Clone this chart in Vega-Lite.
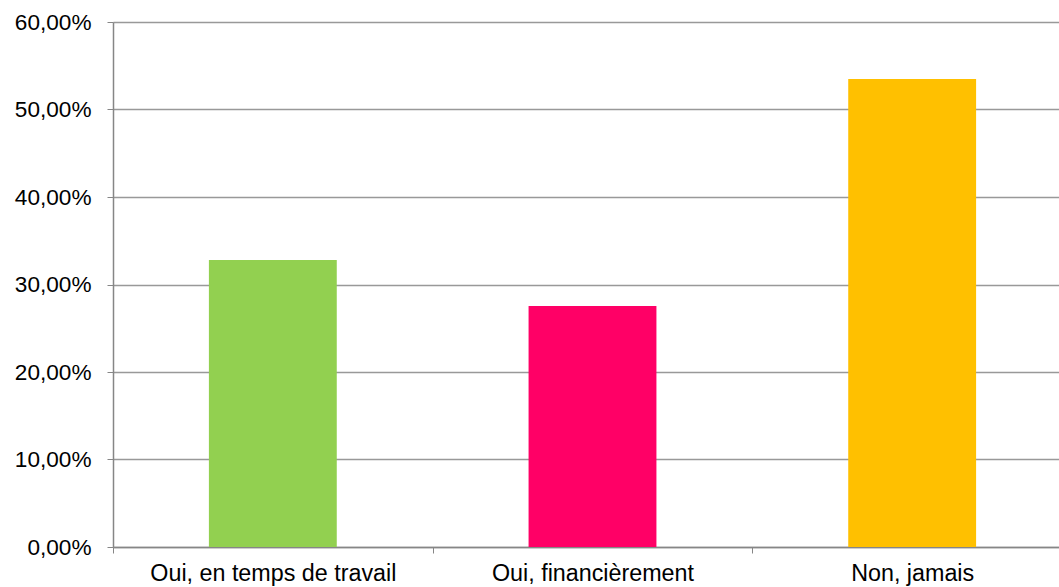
{
  "$schema": "https://vega.github.io/schema/vega-lite/v6.json",
  "autosize": {"type": "none"},
  "padding": {"left": 113, "top": 22, "right": 0, "bottom": 40},
  "width": 946,
  "height": 525,
  "background": "white",
  "data": {"values": [
    {"cat": "Oui, en temps de travail", "val": 0.328},
    {"cat": "Oui, financièrement", "val": 0.2754},
    {"cat": "Non, jamais", "val": 0.5349}
  ]},
  "config": {"view": {"stroke": null}, "font": "Liberation Sans"},
  "mark": {"type": "bar", "width": {"band": 0.4}},
  "encoding": {
    "x": {
      "field": "cat", "type": "nominal", "sort": null,
      "scale": {"range": [0, 959], "paddingInner": 0, "paddingOuter": 0},
      "axis": {
        "title": null, "labelAngle": 0, "tickBand": "extent", "labelLimit": 0,
        "domainColor": "#868686", "domainWidth": 1.5, "tickColor": "#868686", "tickSize": 6,
        "labelFont": "Liberation Sans", "labelFontSize": 23.3, "labelColor": "black", "labelPadding": 9
      }
    },
    "y": {
      "field": "val", "type": "quantitative",
      "scale": {"domain": [0, 0.6], "nice": false},
      "axis": {
        "title": null, "values": [0, 0.1, 0.2, 0.3, 0.4, 0.5, 0.6],
        "labelExpr": "replace(format(datum.value, '.2%'), '.', ',')",
        "grid": true, "gridColor": "#999999", "gridWidth": 1.5,
        "domainColor": "#868686", "domainWidth": 1.5, "tickColor": "#868686", "tickSize": 6,
        "labelFont": "Liberation Sans", "labelFontSize": 22.6, "labelColor": "black", "labelPadding": 16
      }
    },
    "color": {
      "field": "cat", "type": "nominal", "sort": null, "legend": null,
      "scale": {"domain": ["Oui, en temps de travail", "Oui, financièrement", "Non, jamais"], "range": ["#92D050", "#FF0066", "#FFC000"]}
    }
  }
}
